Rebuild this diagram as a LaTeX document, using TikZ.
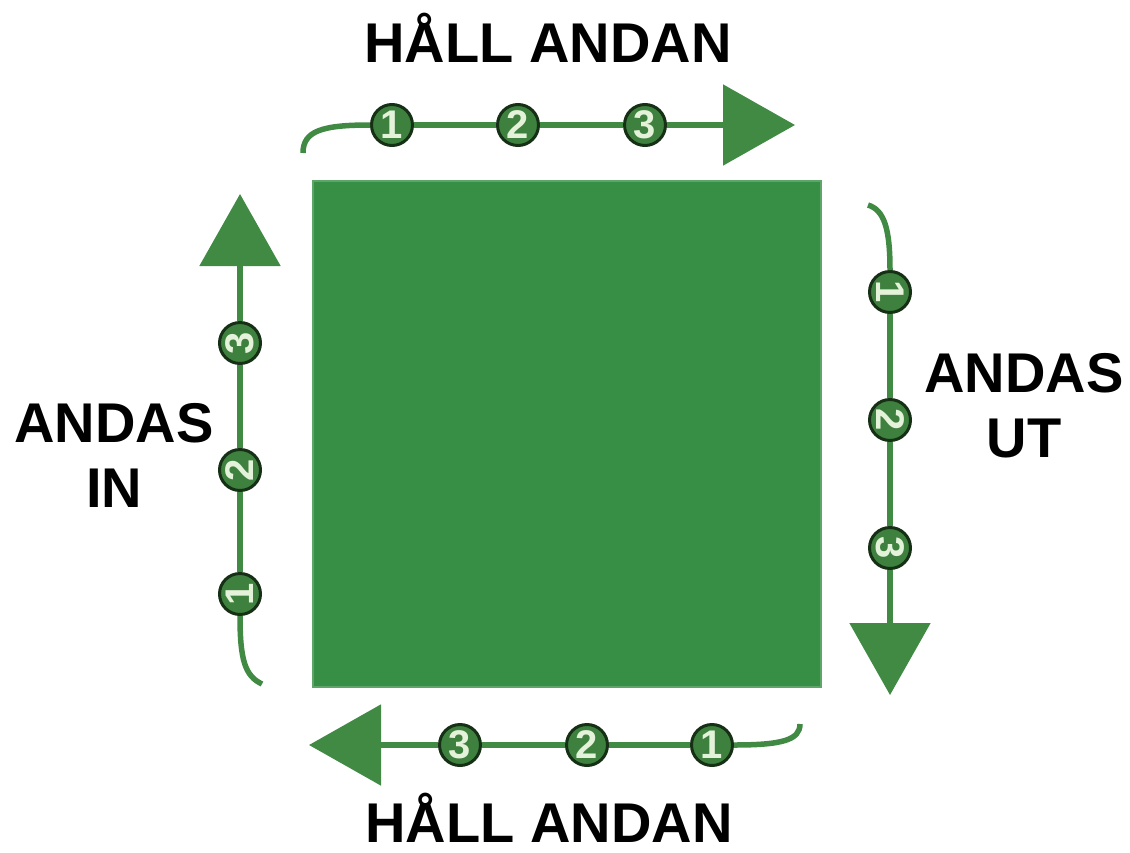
\documentclass[tikz,border=0pt]{standalone}
\usepackage{fontspec}
\setmainfont{Liberation Sans}
\usetikzlibrary{arrows.meta}
\definecolor{arrowgreen}{RGB}{64,138,68}
\definecolor{squaregreen}{RGB}{54,143,68}
\definecolor{circfill}{RGB}{62,128,62}
\definecolor{circline}{RGB}{22,48,22}
\definecolor{numcol}{RGB}{228,242,218}
\tikzset{
  arrowline/.style={draw=arrowgreen, line width=5.5pt},
  arrowtip/.style={-{Triangle[length=72pt,width=80pt]}},
  numcirc/.style={circle, fill=circfill, draw=circline, line width=3pt, minimum size=41pt, inner sep=0pt,
    text=numcol, font=\fontsize{40}{40}\selectfont\bfseries},
  bigtext/.style={font=\fontsize{56}{65}\selectfont\bfseries, text=black, inner sep=0pt, align=center}
}
\begin{document}
\begin{tikzpicture}[x=1pt,y=-1pt]
\useasboundingbox (0,0) rectangle (1130,852);
% square
\node[fill=squaregreen, draw=squaregreen!80!white, line width=2pt, minimum width=508pt, minimum height=506pt, inner sep=0pt] (sq) at (567,434) {};
% top
\node[numcirc] (t1) at (392,125) {1};
\node[numcirc] (t2) at (518,125) {2};
\node[numcirc] (t3) at (645,125) {3};
\coordinate (ts) at (303,153);
\coordinate (te) at (795,125);
\draw[arrowline] (ts) .. controls (303,131) and (322,125) .. (t1);
\draw[arrowline] (t1) -- (t2);
\draw[arrowline] (t2) -- (t3);
\draw[arrowline,arrowtip] (t3) -- (te);
% right
\node[numcirc, rotate=-90] (r1) at (890,292) {1};
\node[numcirc, rotate=-90] (r2) at (890,420) {2};
\node[numcirc, rotate=-90] (r3) at (890,548) {3};
\coordinate (rs) at (868,205);
\coordinate (re) at (890,695);
\draw[arrowline] (rs) .. controls (884,210) and (890,228) .. (r1);
\draw[arrowline] (r1) -- (r2);
\draw[arrowline] (r2) -- (r3);
\draw[arrowline,arrowtip] (r3) -- (re);
% bottom
\node[numcirc] (b1) at (712,745) {1};
\node[numcirc] (b2) at (587,745) {2};
\node[numcirc] (b3) at (460,745) {3};
\coordinate (bs) at (800,724);
\coordinate (be) at (309,745);
\draw[arrowline] (bs) .. controls (800,740) and (782,745) .. (b1);
\draw[arrowline] (b1) -- (b2);
\draw[arrowline] (b2) -- (b3);
\draw[arrowline,arrowtip] (b3) -- (be);
% left
\node[numcirc, rotate=90] (l1) at (240,594) {1};
\node[numcirc, rotate=90] (l2) at (240,470) {2};
\node[numcirc, rotate=90] (l3) at (240,343) {3};
\coordinate (ls) at (262,684);
\coordinate (le) at (240,194);
\draw[arrowline] (ls) .. controls (245,676) and (240,660) .. (l1);
\draw[arrowline] (l1) -- (l2);
\draw[arrowline] (l2) -- (l3);
\draw[arrowline,arrowtip] (l3) -- (le);
% labels
\node[bigtext, anchor=base] (top) at (548,62) {HÅLL ANDAN};
\node[bigtext, anchor=base] (bot) at (549,842) {HÅLL ANDAN};
\node[bigtext] (lin) at (114,455) {ANDAS\\IN};
\node[bigtext] (rut) at (1024,406) {ANDAS\\UT};
\end{tikzpicture}
\end{document}
